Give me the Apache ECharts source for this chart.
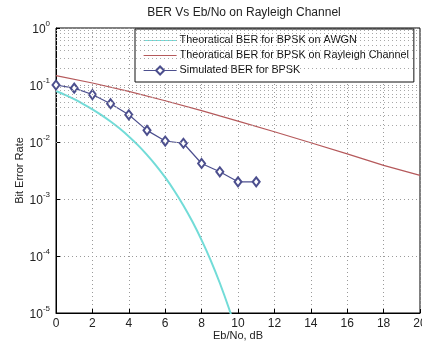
<!DOCTYPE html>
<html>
<head>
<meta charset="utf-8">
<script src="https://cdn.jsdelivr.net/npm/echarts@6/dist/echarts.min.js"></script>
<style>html,body{margin:0;padding:0;background:#fff;}#c{width:422px;height:341px;}</style>
</head>
<body>
<div id="c"></div>
<script>
var titleText = 'BER Vs Eb/No on Rayleigh Channel';
var xName = 'Eb/No, dB';
var yName = 'Bit Error Rate';
var seriesNames = ['Theoratical BER for BPSK on AWGN', 'Theoratical BER for BPSK on Rayleigh Channel', 'Simulated BER for BPSK'];

var awgnX = [0, 0.5, 1, 1.5, 2, 2.5, 3, 3.5, 4, 4.5, 5, 5.5, 6, 6.5, 7, 7.5, 8, 8.5, 9, 9.5, 10];
var awgnY = [0.0786, 0.0671, 0.0563, 0.0464, 0.0375, 0.0297, 0.0229, 0.0172, 0.0125, 0.0088, 0.00595, 0.00386, 0.00239, 0.0014, 0.00077, 0.000398, 0.00019, 0.000084, 0.0000336, 0.0000121, 0.0000039];

var rayX = [0, 2, 4, 6, 8, 10, 12, 14, 16, 18, 20];
var rayY = [0.146, 0.1085, 0.0771, 0.053, 0.0355, 0.0233, 0.0151, 0.0097, 0.0062, 0.0039, 0.0026];

var simX = [0, 1, 2, 3, 4, 5, 6, 7, 8, 9, 10, 11];
var simY = [0.1, 0.088, 0.068, 0.047, 0.03, 0.016, 0.0104, 0.0095, 0.0042, 0.003, 0.002, 0.002];

function pairs(xs, ys) { return xs.map(function (x, i) { return [x, ys[i]]; }); }

// minor log grid lines (k * 10^n)
var minorLines = [];
for (var e = -5; e < 0; e++) {
  for (var k = 2; k <= 9; k++) minorLines.push({ yAxis: k * Math.pow(10, e) });
}

var chart = echarts.init(document.getElementById('c'), null, { renderer: 'canvas' });
var font = 'Liberation Sans, Arial, sans-serif';
var gridDot = { color: '#9a9a9a', type: [1, 3], width: 1 };
var lineIcon = 'path://M0,0 L0,0 M0,4.4 L33,4.4 L33,5.6 L0,5.6 Z M33,10 L33,10';

chart.setOption({
  backgroundColor: '#ffffff',
  animation: false,
  textStyle: { fontFamily: font },
  title: {
    text: titleText, left: 239, top: 2, textAlign: 'center',
    textStyle: { fontSize: 12, fontWeight: 'normal', color: '#222', fontFamily: font }
  },
  grid: { left: 56, right: 2, top: 28, bottom: 28, containLabel: false, outerBoundsMode: 'none', show: true, borderColor: '#000', borderWidth: 1, backgroundColor: '#fff' },
  legend: {
    orient: 'vertical', left: 135, top: 29,
    backgroundColor: '#fff', borderColor: '#111', borderWidth: 1,
    padding: [6, 5, 6, 8], itemGap: 4, itemWidth: 33, itemHeight: 10,
    textStyle: { fontSize: 10.8, color: '#111', fontFamily: font, padding: [0, 0, 0, -2] },
    data: [
      { name: seriesNames[0], icon: lineIcon, itemStyle: { color: '#72dcd8' } },
      { name: seriesNames[1], icon: lineIcon, itemStyle: { color: '#b5595b' } },
      { name: seriesNames[2], lineStyle: { width: 1.2 } }
    ]
  },
  xAxis: {
    type: 'value', min: 0, max: 20, interval: 2,
    name: xName, nameLocation: 'middle', nameGap: 17, nameMoveOverlap: false,
    nameTextStyle: { fontSize: 11, color: '#222', fontFamily: font },
    axisLine: { lineStyle: { color: '#000' } },
    axisTick: { inside: true, length: 4, lineStyle: { color: '#000' } },
    axisLabel: { fontSize: 12, color: '#222', margin: 5, fontFamily: font },
    splitLine: { show: true, lineStyle: gridDot }
  },
  yAxis: {
    type: 'log', logBase: 10, min: 1e-5, max: 1,
    name: yName, nameLocation: 'middle', nameGap: 31, nameRotate: 90, nameMoveOverlap: false,
    nameTextStyle: { fontSize: 11, color: '#222', fontFamily: font },
    axisLine: { lineStyle: { color: '#000' } },
    axisTick: { inside: true, length: 4, lineStyle: { color: '#000' } },
    axisLabel: {
      margin: 6, color: '#222', fontFamily: font,
      formatter: function (v) {
        var ex = Math.round(Math.log10(v));
        return '{b|10}{s|' + ex + '}';
      },
      rich: {
        b: { fontSize: 12, color: '#222', fontFamily: font, verticalAlign: 'bottom' },
        s: { fontSize: 8, color: '#222', fontFamily: font, verticalAlign: 'top', padding: [0, 0, 8, 0] }
      }
    },
    splitLine: { show: true, lineStyle: gridDot }
  },
  series: [
    {
      name: seriesNames[0], type: 'line', data: pairs(awgnX, awgnY), smooth: 0.3,
      showSymbol: false, symbol: 'none', clip: true,
      lineStyle: { color: '#72dcd8', width: 2 }, itemStyle: { color: '#72dcd8' },
      markLine: {
        silent: true, symbol: 'none', label: { show: false },
        lineStyle: { color: '#a8a8a8', type: [1, 3], width: 1 },
        data: minorLines, animation: false
      },
      z: 3
    },
    {
      name: seriesNames[1], type: 'line', data: pairs(rayX, rayY),
      showSymbol: false, symbol: 'none',
      lineStyle: { color: '#b5595b', width: 1.2 }, itemStyle: { color: '#b5595b' }, z: 3
    },
    {
      name: seriesNames[2], type: 'line', data: pairs(simX, simY),
      symbol: 'emptyDiamond', symbolSize: [7, 9], showSymbol: true,
      lineStyle: { color: '#4c4f8e', width: 1.2 }, itemStyle: { color: '#4c4f8e', borderWidth: 1.2 }, z: 4
    }
  ]
});
</script>
</body>
</html>
